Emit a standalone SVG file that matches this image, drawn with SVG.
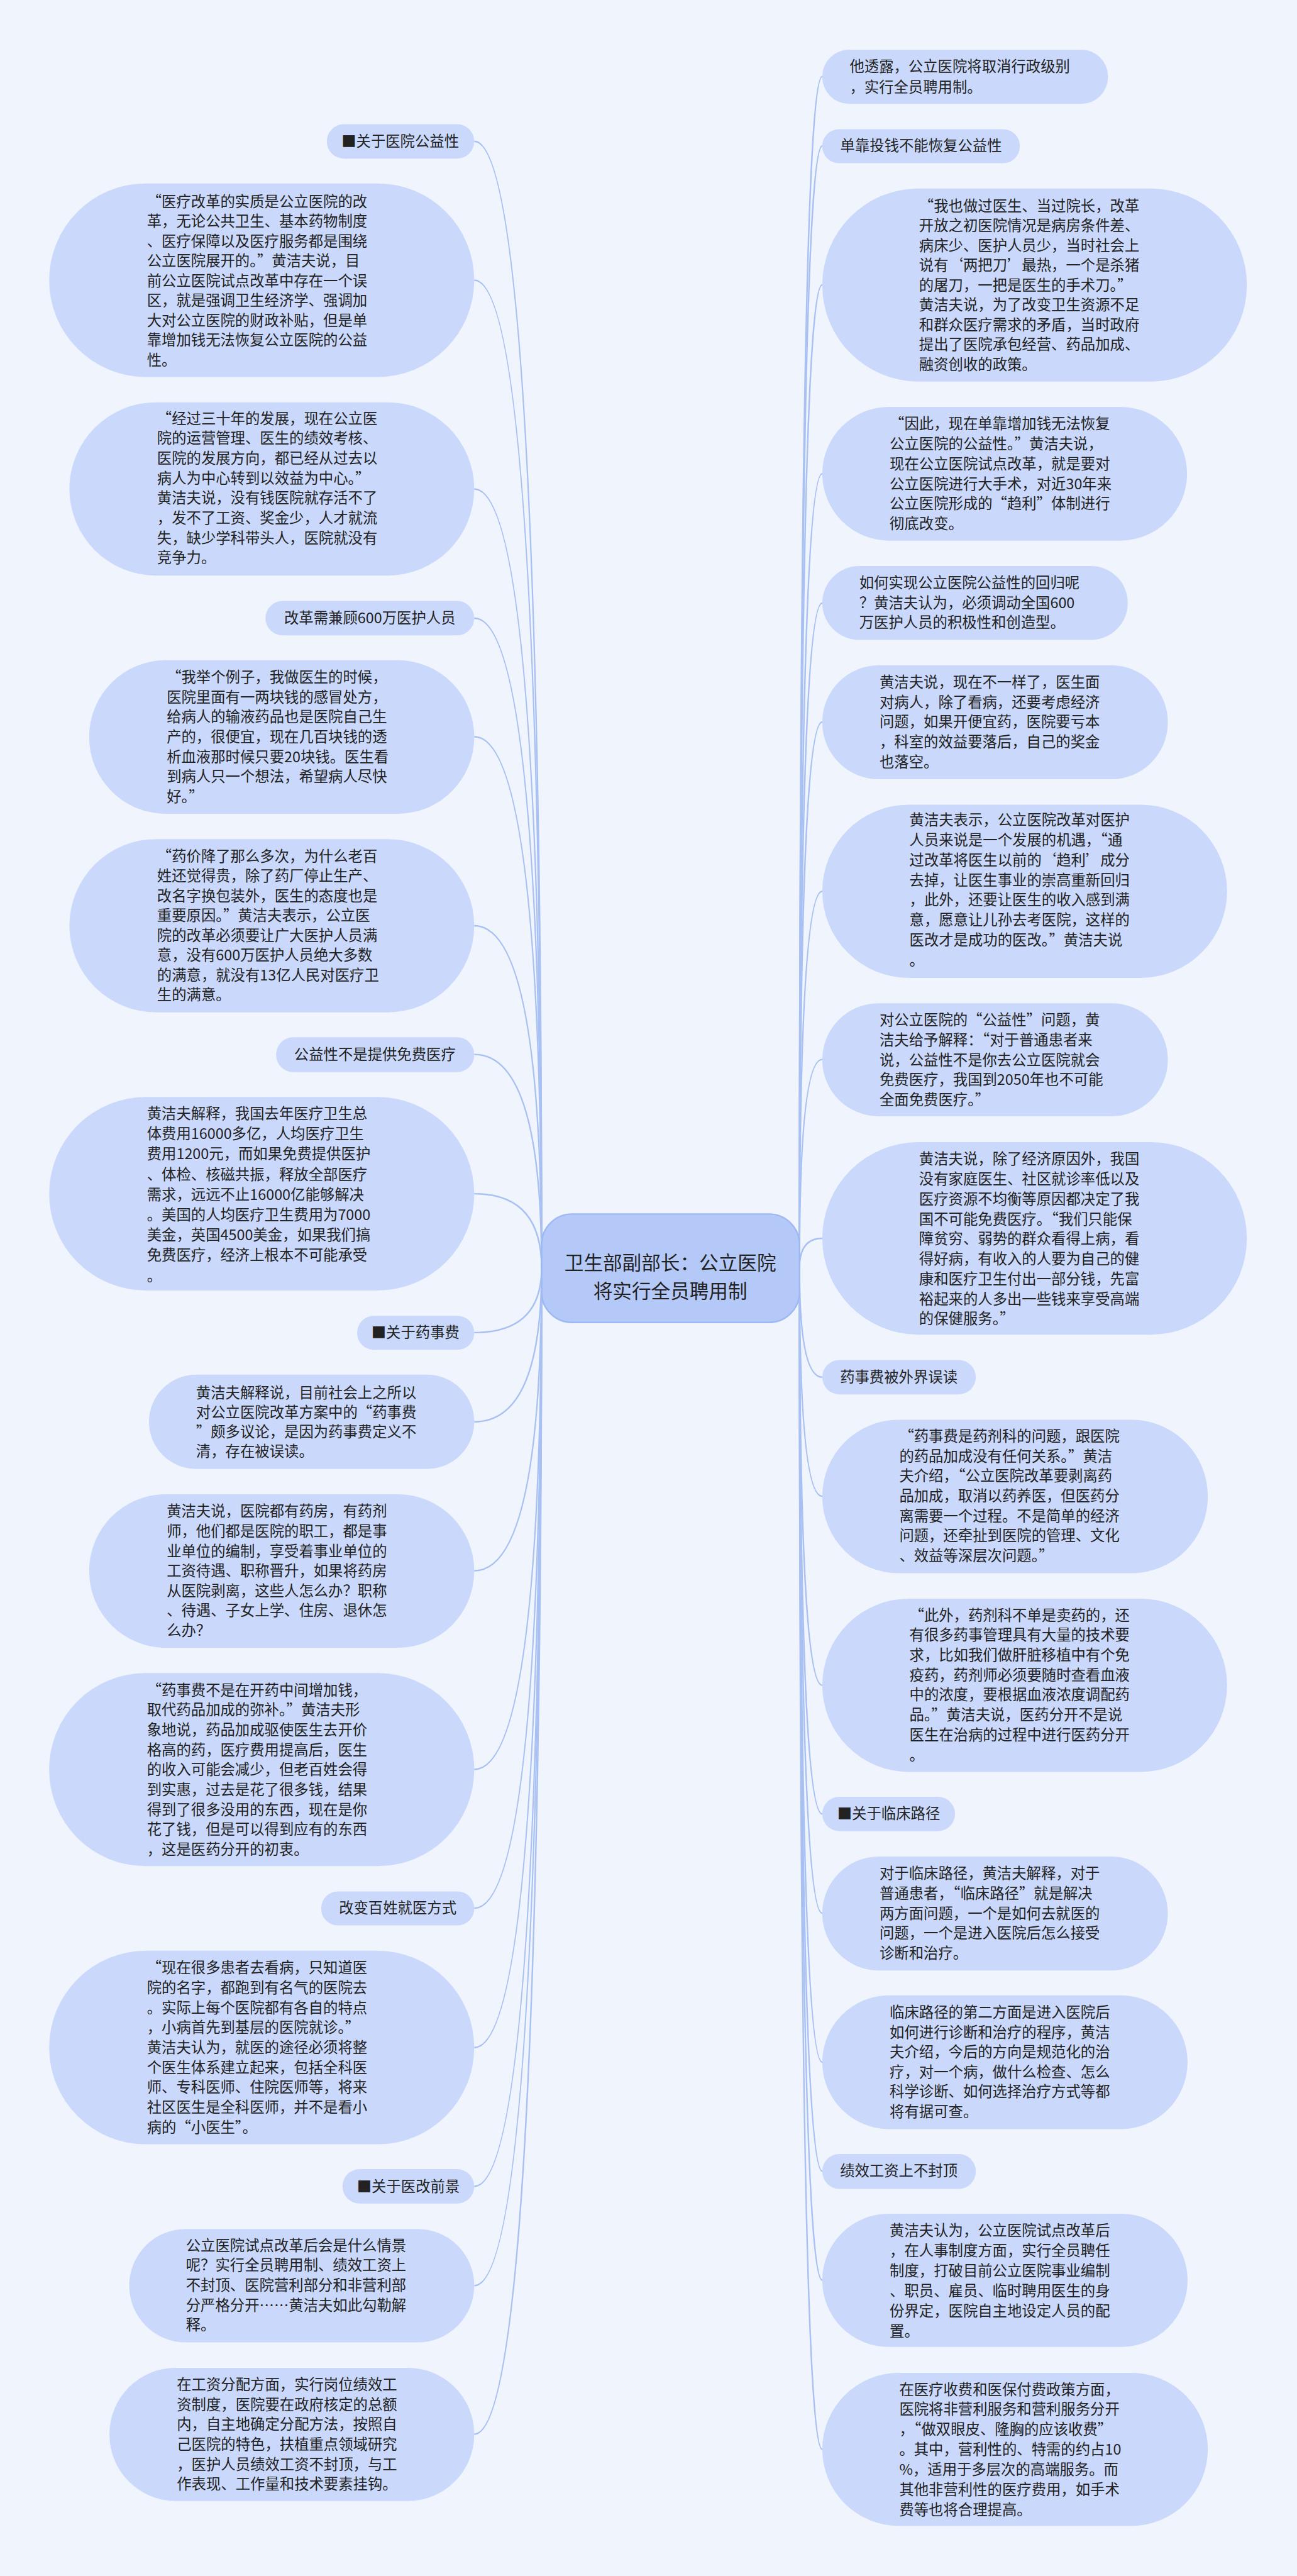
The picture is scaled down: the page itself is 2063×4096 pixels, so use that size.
<svg xmlns="http://www.w3.org/2000/svg" width="2063" height="4096" viewBox="0 0 2063 4096">
<style>
.n{fill:#cad9fb}
.t{font-family:"Noto Sans CJK SC","Noto Sans CJK JP",sans-serif;font-size:29px;fill:#222}
.c{text-anchor:middle}
.cn{fill:none;stroke:#a9c1f2;stroke-width:3}
.r{fill:#b4c9f8;stroke:#9db8f3;stroke-width:3}
.rt{font-family:"Noto Sans CJK SC","Noto Sans CJK JP",sans-serif;font-size:38px;fill:#222;text-anchor:middle}
</style>
<rect width="2063" height="4096" fill="#eff4fd"/>
<g transform="scale(0.80586 0.80567)">
<g id="connectors">
<path class="cn" d="M1069 2503 Q1069 279 936 279"/>
<path class="cn" d="M1069 2503 Q1069 553 936 553"/>
<path class="cn" d="M1069 2503 Q1069 965 936 965"/>
<path class="cn" d="M1069 2503 Q1069 1220 936 1220"/>
<path class="cn" d="M1069 2503 Q1069 1454 936 1454"/>
<path class="cn" d="M1069 2503 Q1069 1827 936 1827"/>
<path class="cn" d="M1069 2503 Q1069 2081 936 2081"/>
<path class="cn" d="M1069 2503 Q1069 2356 936 2356"/>
<path class="cn" d="M1069 2503 Q1069 2630 936 2630"/>
<path class="cn" d="M1069 2503 Q1069 2806 936 2806"/>
<path class="cn" d="M1069 2503 Q1069 3100 936 3100"/>
<path class="cn" d="M1069 2503 Q1069 3492 936 3492"/>
<path class="cn" d="M1069 2503 Q1069 3766 936 3766"/>
<path class="cn" d="M1069 2503 Q1069 4041 936 4041"/>
<path class="cn" d="M1069 2503 Q1069 4315 936 4315"/>
<path class="cn" d="M1069 2503 Q1069 4511 936 4511"/>
<path class="cn" d="M1069 2503 Q1069 4804 936 4804"/>
<path class="cn" d="M1578 2503 Q1578 151 1623 151"/>
<path class="cn" d="M1578 2503 Q1578 288 1623 288"/>
<path class="cn" d="M1578 2503 Q1578 562 1623 562"/>
<path class="cn" d="M1578 2503 Q1578 935 1623 935"/>
<path class="cn" d="M1578 2503 Q1578 1190 1623 1190"/>
<path class="cn" d="M1578 2503 Q1578 1425 1623 1425"/>
<path class="cn" d="M1578 2503 Q1578 1759 1623 1759"/>
<path class="cn" d="M1578 2503 Q1578 2091 1623 2091"/>
<path class="cn" d="M1578 2503 Q1578 2444 1623 2444"/>
<path class="cn" d="M1578 2503 Q1578 2718 1623 2718"/>
<path class="cn" d="M1578 2503 Q1578 2953 1623 2953"/>
<path class="cn" d="M1578 2503 Q1578 3326 1623 3326"/>
<path class="cn" d="M1578 2503 Q1578 3580 1623 3580"/>
<path class="cn" d="M1578 2503 Q1578 3776 1623 3776"/>
<path class="cn" d="M1578 2503 Q1578 4070 1623 4070"/>
<path class="cn" d="M1578 2503 Q1578 4285 1623 4285"/>
<path class="cn" d="M1578 2503 Q1578 4500 1623 4500"/>
<path class="cn" d="M1578 2503 Q1578 4834 1623 4834"/>
</g>
<g id="root">
<rect class="r" x="1069" y="2396" width="509" height="214" rx="60"/>
<text class="rt" x="1323" y="2506">卫生部副部长：公立医院</text>
<text class="rt" x="1323" y="2562">将实行全员聘用制</text>
</g>
<g id="L1"><rect class="n" x="645" y="245" width="291" height="68" rx="34"/><text class="t c" x="790" y="289">■关于医院公益性</text></g>
<g id="L2"><rect class="n" x="97" y="362" width="839" height="382" rx="191"/><text class="t" x="290" y="408"><tspan x="290" dy="0">“医疗改革的实质是公立医院的改</tspan><tspan x="290" dy="39.1">革，无论公共卫生、基本药物制度</tspan><tspan x="290" dy="39.1">、医疗保障以及医疗服务都是围绕</tspan><tspan x="290" dy="39.1">公立医院展开的。”黄洁夫说，目</tspan><tspan x="290" dy="39.1">前公立医院试点改革中存在一个误</tspan><tspan x="290" dy="39.1">区，就是强调卫生经济学、强调加</tspan><tspan x="290" dy="39.1">大对公立医院的财政补贴，但是单</tspan><tspan x="290" dy="39.1">靠增加钱无法恢复公立医院的公益</tspan><tspan x="290" dy="39.1">性。</tspan></text></g>
<g id="L3"><rect class="n" x="137" y="794" width="799" height="342" rx="171"/><text class="t" x="310" y="836"><tspan x="310" dy="0">“经过三十年的发展，现在公立医</tspan><tspan x="310" dy="39.3">院的运营管理、医生的绩效考核、</tspan><tspan x="310" dy="39.3">医院的发展方向，都已经从过去以</tspan><tspan x="310" dy="39.3">病人为中心转到以效益为中心。”</tspan><tspan x="310" dy="39.3">黄洁夫说，没有钱医院就存活不了</tspan><tspan x="310" dy="39.3">，发不了工资、奖金少，人才就流</tspan><tspan x="310" dy="39.3">失，缺少学科带头人，医院就没有</tspan><tspan x="310" dy="39.3">竞争力。</tspan></text></g>
<g id="L4"><rect class="n" x="524" y="1186" width="412" height="68" rx="34"/><text class="t c" x="730" y="1230">改革需兼顾600万医护人员</text></g>
<g id="L5"><rect class="n" x="176" y="1303" width="760" height="303" rx="151"/><text class="t" x="329" y="1347"><tspan x="329" dy="0">“我举个例子，我做医生的时候，</tspan><tspan x="329" dy="39.2">医院里面有一两块钱的感冒处方，</tspan><tspan x="329" dy="39.2">给病人的输液药品也是医院自己生</tspan><tspan x="329" dy="39.2">产的，很便宜，现在几百块钱的透</tspan><tspan x="329" dy="39.2">析血液那时候只要20块钱。医生看</tspan><tspan x="329" dy="39.2">到病人只一个想法，希望病人尽快</tspan><tspan x="329" dy="39.2">好。”</tspan></text></g>
<g id="L6"><rect class="n" x="137" y="1656" width="799" height="342" rx="171"/><text class="t" x="310" y="1700"><tspan x="310" dy="0">“药价降了那么多次，为什么老百</tspan><tspan x="310" dy="39.1">姓还觉得贵，除了药厂停止生产、</tspan><tspan x="310" dy="39.1">改名字换包装外，医生的态度也是</tspan><tspan x="310" dy="39.1">重要原因。”黄洁夫表示，公立医</tspan><tspan x="310" dy="39.1">院的改革必须要让广大医护人员满</tspan><tspan x="310" dy="39.1">意，没有600万医护人员绝大多数</tspan><tspan x="310" dy="39.1">的满意，就没有13亿人民对医疗卫</tspan><tspan x="310" dy="39.1">生的满意。</tspan></text></g>
<g id="L7"><rect class="n" x="545" y="2047" width="391" height="69" rx="34"/><text class="t c" x="740" y="2091">公益性不是提供免费医疗</text></g>
<g id="L8"><rect class="n" x="97" y="2165" width="839" height="382" rx="191"/><text class="t" x="290" y="2208"><tspan x="290" dy="0">黄洁夫解释，我国去年医疗卫生总</tspan><tspan x="290" dy="40">体费用16000多亿，人均医疗卫生</tspan><tspan x="290" dy="40">费用1200元，而如果免费提供医护</tspan><tspan x="290" dy="40">、体检、核磁共振，释放全部医疗</tspan><tspan x="290" dy="40">需求，远远不止16000亿能够解决</tspan><tspan x="290" dy="40">。美国的人均医疗卫生费用为7000</tspan><tspan x="290" dy="40">美金，英国4500美金，如果我们搞</tspan><tspan x="290" dy="40">免费医疗，经济上根本不可能承受</tspan><tspan x="290" dy="40">。</tspan></text></g>
<g id="L9"><rect class="n" x="705" y="2597" width="231" height="67" rx="33"/><text class="t c" x="820" y="2640">■关于药事费</text></g>
<g id="L10"><rect class="n" x="294" y="2713" width="642" height="186" rx="93"/><text class="t" x="387" y="2759"><tspan x="387" dy="0">黄洁夫解释说，目前社会上之所以</tspan><tspan x="387" dy="38.7">对公立医院改革方案中的“药事费</tspan><tspan x="387" dy="38.7">”颇多议论，是因为药事费定义不</tspan><tspan x="387" dy="38.7">清，存在被误读。</tspan></text></g>
<g id="L11"><rect class="n" x="176" y="2949" width="760" height="303" rx="151"/><text class="t" x="329" y="2993"><tspan x="329" dy="0">黄洁夫说，医院都有药房，有药剂</tspan><tspan x="329" dy="39.2">师，他们都是医院的职工，都是事</tspan><tspan x="329" dy="39.2">业单位的编制，享受着事业单位的</tspan><tspan x="329" dy="39.2">工资待遇、职称晋升，如果将药房</tspan><tspan x="329" dy="39.2">从医院剥离，这些人怎么办？职称</tspan><tspan x="329" dy="39.2">、待遇、子女上学、住房、退休怎</tspan><tspan x="329" dy="39.2">么办？</tspan></text></g>
<g id="L12"><rect class="n" x="97" y="3302" width="839" height="381" rx="190"/><text class="t" x="290" y="3346"><tspan x="290" dy="0">“药事费不是在开药中间增加钱，</tspan><tspan x="290" dy="39.3">取代药品加成的弥补。”黄洁夫形</tspan><tspan x="290" dy="39.3">象地说，药品加成驱使医生去开价</tspan><tspan x="290" dy="39.3">格高的药，医疗费用提高后，医生</tspan><tspan x="290" dy="39.3">的收入可能会减少，但老百姓会得</tspan><tspan x="290" dy="39.3">到实惠，过去是花了很多钱，结果</tspan><tspan x="290" dy="39.3">得到了很多没用的东西，现在是你</tspan><tspan x="290" dy="39.3">花了钱，但是可以得到应有的东西</tspan><tspan x="290" dy="39.3">，这是医药分开的初衷。</tspan></text></g>
<g id="L13"><rect class="n" x="634" y="3733" width="302" height="67" rx="33"/><text class="t c" x="785" y="3776">改变百姓就医方式</text></g>
<g id="L14"><rect class="n" x="97" y="3850" width="839" height="382" rx="191"/><text class="t" x="290" y="3894"><tspan x="290" dy="0">“现在很多患者去看病，只知道医</tspan><tspan x="290" dy="39.3">院的名字，都跑到有名气的医院去</tspan><tspan x="290" dy="39.3">。实际上每个医院都有各自的特点</tspan><tspan x="290" dy="39.3">，小病首先到基层的医院就诊。”</tspan><tspan x="290" dy="39.3">黄洁夫认为，就医的途径必须将整</tspan><tspan x="290" dy="39.3">个医生体系建立起来，包括全科医</tspan><tspan x="290" dy="39.3">师、专科医师、住院医师等，将来</tspan><tspan x="290" dy="39.3">社区医生是全科医师，并不是看小</tspan><tspan x="290" dy="39.3">病的“小医生”。</tspan></text></g>
<g id="L15"><rect class="n" x="676" y="4281" width="260" height="68" rx="34"/><text class="t c" x="806" y="4325">■关于医改前景</text></g>
<g id="L16"><rect class="n" x="255" y="4399" width="681" height="224" rx="112"/><text class="t" x="367" y="4442"><tspan x="367" dy="0">公立医院试点改革后会是什么情景</tspan><tspan x="367" dy="39.2">呢？实行全员聘用制、绩效工资上</tspan><tspan x="367" dy="39.2">不封顶、医院营利部分和非营利部</tspan><tspan x="367" dy="39.2">分严格分开……黄洁夫如此勾勒解</tspan><tspan x="367" dy="39.2">释。</tspan></text></g>
<g id="L17"><rect class="n" x="216" y="4673" width="720" height="263" rx="131"/><text class="t" x="349" y="4717"><tspan x="349" dy="0">在工资分配方面，实行岗位绩效工</tspan><tspan x="349" dy="39.2">资制度，医院要在政府核定的总额</tspan><tspan x="349" dy="39.2">内，自主地确定分配方法，按照自</tspan><tspan x="349" dy="39.2">己医院的特色，扶植重点领域研究</tspan><tspan x="349" dy="39.2">，医护人员绩效工资不封顶，与工</tspan><tspan x="349" dy="39.2">作表现、工作量和技术要素挂钩。</tspan></text></g>
<g id="R1"><rect class="n" x="1623" y="98" width="564" height="107" rx="53"/><text class="t" x="1677" y="141"><tspan x="1677" dy="0">他透露，公立医院将取消行政级别</tspan><tspan x="1677" dy="41">，实行全员聘用制。</tspan></text></g>
<g id="R2"><rect class="n" x="1623" y="255" width="390" height="67" rx="33"/><text class="t c" x="1818" y="298">单靠投钱不能恢复公益性</text></g>
<g id="R3"><rect class="n" x="1623" y="372" width="838" height="381" rx="190"/><text class="t" x="1814" y="417"><tspan x="1814" dy="0">“我也做过医生、当过院长，改革</tspan><tspan x="1814" dy="39.1">开放之初医院情况是病房条件差、</tspan><tspan x="1814" dy="39.1">病床少、医护人员少，当时社会上</tspan><tspan x="1814" dy="39.1">说有‘两把刀’最热，一个是杀猪</tspan><tspan x="1814" dy="39.1">的屠刀，一把是医生的手术刀。”</tspan><tspan x="1814" dy="39.1">黄洁夫说，为了改变卫生资源不足</tspan><tspan x="1814" dy="39.1">和群众医疗需求的矛盾，当时政府</tspan><tspan x="1814" dy="39.1">提出了医院承包经营、药品加成、</tspan><tspan x="1814" dy="39.1">融资创收的政策。</tspan></text></g>
<g id="R4"><rect class="n" x="1623" y="803" width="720" height="264" rx="132"/><text class="t" x="1756" y="847"><tspan x="1756" dy="0">“因此，现在单靠增加钱无法恢复</tspan><tspan x="1756" dy="39.4">公立医院的公益性。”黄洁夫说，</tspan><tspan x="1756" dy="39.4">现在公立医院试点改革，就是要对</tspan><tspan x="1756" dy="39.4">公立医院进行大手术，对近30年来</tspan><tspan x="1756" dy="39.4">公立医院形成的“趋利”体制进行</tspan><tspan x="1756" dy="39.4">彻底改变。</tspan></text></g>
<g id="R5"><rect class="n" x="1623" y="1117" width="603" height="146" rx="73"/><text class="t" x="1696" y="1161"><tspan x="1696" dy="0">如何实现公立医院公益性的回归呢</tspan><tspan x="1696" dy="39">？黄洁夫认为，必须调动全国600</tspan><tspan x="1696" dy="39">万医护人员的积极性和创造型。</tspan></text></g>
<g id="R6"><rect class="n" x="1623" y="1313" width="682" height="225" rx="112"/><text class="t" x="1736" y="1357"><tspan x="1736" dy="0">黄洁夫说，现在不一样了，医生面</tspan><tspan x="1736" dy="39.2">对病人，除了看病，还要考虑经济</tspan><tspan x="1736" dy="39.2">问题，如果开便宜药，医院要亏本</tspan><tspan x="1736" dy="39.2">，科室的效益要落后，自己的奖金</tspan><tspan x="1736" dy="39.2">也落空。</tspan></text></g>
<g id="R7"><rect class="n" x="1623" y="1588" width="799" height="342" rx="171"/><text class="t" x="1795" y="1629"><tspan x="1795" dy="0">黄洁夫表示，公立医院改革对医护</tspan><tspan x="1795" dy="39.4">人员来说是一个发展的机遇，“通</tspan><tspan x="1795" dy="39.4">过改革将医生以前的‘趋利’成分</tspan><tspan x="1795" dy="39.4">去掉，让医生事业的崇高重新回归</tspan><tspan x="1795" dy="39.4">，此外，还要让医生的收入感到满</tspan><tspan x="1795" dy="39.4">意，愿意让儿孙去考医院，这样的</tspan><tspan x="1795" dy="39.4">医改才是成功的医改。”黄洁夫说</tspan><tspan x="1795" dy="39.4">。</tspan></text></g>
<g id="R8"><rect class="n" x="1623" y="1980" width="682" height="223" rx="111"/><text class="t" x="1736" y="2023"><tspan x="1736" dy="0">对公立医院的“公益性”问题，黄</tspan><tspan x="1736" dy="39.5">洁夫给予解释：“对于普通患者来</tspan><tspan x="1736" dy="39.5">说，公益性不是你去公立医院就会</tspan><tspan x="1736" dy="39.5">免费医疗，我国到2050年也不可能</tspan><tspan x="1736" dy="39.5">全面免费医疗。”</tspan></text></g>
<g id="R9"><rect class="n" x="1623" y="2254" width="838" height="380" rx="190"/><text class="t" x="1814" y="2298"><tspan x="1814" dy="0">黄洁夫说，除了经济原因外，我国</tspan><tspan x="1814" dy="39.4">没有家庭医生、社区就诊率低以及</tspan><tspan x="1814" dy="39.4">医疗资源不均衡等原因都决定了我</tspan><tspan x="1814" dy="39.4">国不可能免费医疗。“我们只能保</tspan><tspan x="1814" dy="39.4">障贫穷、弱势的群众看得上病，看</tspan><tspan x="1814" dy="39.4">得好病，有收入的人要为自己的健</tspan><tspan x="1814" dy="39.4">康和医疗卫生付出一部分钱，先富</tspan><tspan x="1814" dy="39.4">裕起来的人多出一些钱来享受高端</tspan><tspan x="1814" dy="39.4">的保健服务。”</tspan></text></g>
<g id="R10"><rect class="n" x="1623" y="2684" width="303" height="68" rx="34"/><text class="t c" x="1774" y="2728">药事费被外界误读</text></g>
<g id="R11"><rect class="n" x="1623" y="2802" width="761" height="303" rx="151"/><text class="t" x="1775" y="2845"><tspan x="1775" dy="0">“药事费是药剂科的问题，跟医院</tspan><tspan x="1775" dy="39.3">的药品加成没有任何关系。”黄洁</tspan><tspan x="1775" dy="39.3">夫介绍，“公立医院改革要剥离药</tspan><tspan x="1775" dy="39.3">品加成，取消以药养医，但医药分</tspan><tspan x="1775" dy="39.3">离需要一个过程。不是简单的经济</tspan><tspan x="1775" dy="39.3">问题，还牵扯到医院的管理、文化</tspan><tspan x="1775" dy="39.3">、效益等深层次问题。”</tspan></text></g>
<g id="R12"><rect class="n" x="1623" y="3155" width="799" height="342" rx="171"/><text class="t" x="1795" y="3198"><tspan x="1795" dy="0">“此外，药剂科不单是卖药的，还</tspan><tspan x="1795" dy="39.4">有很多药事管理具有大量的技术要</tspan><tspan x="1795" dy="39.4">求，比如我们做肝脏移植中有个免</tspan><tspan x="1795" dy="39.4">疫药，药剂师必须要随时查看血液</tspan><tspan x="1795" dy="39.4">中的浓度，要根据血液浓度调配药</tspan><tspan x="1795" dy="39.4">品。”黄洁夫说，医药分开不是说</tspan><tspan x="1795" dy="39.4">医生在治病的过程中进行医药分开</tspan><tspan x="1795" dy="39.4">。</tspan></text></g>
<g id="R13"><rect class="n" x="1623" y="3546" width="262" height="68" rx="34"/><text class="t c" x="1754" y="3590">■关于临床路径</text></g>
<g id="R14"><rect class="n" x="1623" y="3664" width="682" height="225" rx="112"/><text class="t" x="1736" y="3708"><tspan x="1736" dy="0">对于临床路径，黄洁夫解释，对于</tspan><tspan x="1736" dy="39.3">普通患者，“临床路径”就是解决</tspan><tspan x="1736" dy="39.3">两方面问题，一个是如何去就医的</tspan><tspan x="1736" dy="39.3">问题，一个是进入医院后怎么接受</tspan><tspan x="1736" dy="39.3">诊断和治疗。</tspan></text></g>
<g id="R15"><rect class="n" x="1623" y="3938" width="721" height="264" rx="132"/><text class="t" x="1756" y="3982"><tspan x="1756" dy="0">临床路径的第二方面是进入医院后</tspan><tspan x="1756" dy="39.2">如何进行诊断和治疗的程序，黄洁</tspan><tspan x="1756" dy="39.2">夫介绍，今后的方向是规范化的治</tspan><tspan x="1756" dy="39.2">疗，对一个病，做什么检查、怎么</tspan><tspan x="1756" dy="39.2">科学诊断、如何选择治疗方式等都</tspan><tspan x="1756" dy="39.2">将有据可查。</tspan></text></g>
<g id="R16"><rect class="n" x="1623" y="4251" width="303" height="69" rx="34"/><text class="t c" x="1774" y="4295">绩效工资上不封顶</text></g>
<g id="R17"><rect class="n" x="1623" y="4369" width="721" height="263" rx="131"/><text class="t" x="1756" y="4413"><tspan x="1756" dy="0">黄洁夫认为，公立医院试点改革后</tspan><tspan x="1756" dy="39.6">，在人事制度方面，实行全员聘任</tspan><tspan x="1756" dy="39.6">制度，打破目前公立医院事业编制</tspan><tspan x="1756" dy="39.6">、职员、雇员、临时聘用医生的身</tspan><tspan x="1756" dy="39.6">份界定，医院自主地设定人员的配</tspan><tspan x="1756" dy="39.6">置。</tspan></text></g>
<g id="R18"><rect class="n" x="1623" y="4683" width="761" height="302" rx="151"/><text class="t" x="1775" y="4726"><tspan x="1775" dy="0">在医疗收费和医保付费政策方面，</tspan><tspan x="1775" dy="39.5">医院将非营利服务和营利服务分开</tspan><tspan x="1775" dy="39.5">，“做双眼皮、隆胸的应该收费”</tspan><tspan x="1775" dy="39.5">。其中，营利性的、特需的约占10</tspan><tspan x="1775" dy="39.5">%，适用于多层次的高端服务。而</tspan><tspan x="1775" dy="39.5">其他非营利性的医疗费用，如手术</tspan><tspan x="1775" dy="39.5">费等也将合理提高。</tspan></text></g>
</g>
</svg>
